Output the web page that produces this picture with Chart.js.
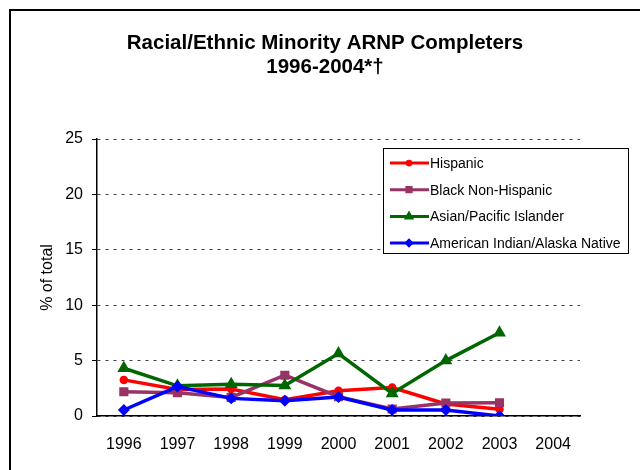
<!DOCTYPE html>
<html>
<head>
<meta charset="utf-8">
<script src="https://cdn.jsdelivr.net/npm/chart.js@4/dist/chart.umd.min.js"></script>
<style>
  body { margin: 0; background: #fff; }
  canvas { display: block; }
</style>
</head>
<body>
<canvas id="myChart" width="640" height="470"></canvas>
<script>
// chart values
const years = ['1996', '1997', '1998', '1999', '2000', '2001', '2002', '2003', '2004'];
const hispanic = [3.26, 2.4, 2.43, 1.47, 2.27, 2.57, 1.08, 0.6, null];
const blackNonHispanic = [2.19, 2.1, 1.68, 3.68, 1.74, 0.63, 1.17, 1.2, null];
const asianPacific = [4.31, 2.72, 2.87, 2.75, 5.63, 2.04, 5.0, 7.51, null];
const amIndianAlaska = [0.54, 2.66, 1.59, 1.38, 1.71, 0.54, 0.54, 0, null];
const yTicks = [0, 5, 10, 15, 20, 25];

const titleLines = ['Racial/Ethnic Minority ARNP Completers', '1996-2004*\u2020'];

// draws the outer frame, title and the boxed legend
const decorations = {
  id: 'decorations',
  afterDraw(chart) {
    let ctx = chart.ctx;
    ctx.save();

    // frame (only left and top edges are inside the picture)
    ctx.strokeStyle = '#000';
    ctx.lineWidth = 2;
    ctx.strokeRect(10, 10, 700, 520);

    // title
    ctx.fillStyle = '#000';
    ctx.font = 'bold 20.5px "Liberation Sans", Arial, sans-serif';
    ctx.textAlign = 'center';
    ctx.textBaseline = 'middle';
    ctx.fillText(titleLines[0], 325, 43);
    ctx.fillText(titleLines[1], 325, 67);

    // legend, white box over the grid
    ctx.fillStyle = '#fff';
    ctx.fillRect(383.5, 148.5, 245, 105);
    ctx.lineWidth = 1;
    ctx.strokeRect(383.5, 148.5, 245, 105);
    ctx.font = '14px "Liberation Sans", Arial, sans-serif';
    ctx.textAlign = 'left';
    chart.data.datasets.forEach((ds, i) => {
      let y = 163 + i * 26.7;
      ctx.strokeStyle = ds.borderColor;
      ctx.lineWidth = 3;
      ctx.beginPath();
      ctx.moveTo(390, y);
      ctx.lineTo(429, y);
      ctx.stroke();
      Chart.helpers.drawPoint(ctx, {
        pointStyle: ds.pointStyle,
        radius: ds.pointRadius * 0.75,
        rotation: 0,
        borderWidth: 1
      }, 409, y);
      ctx.fillStyle = ds.borderColor;
      ctx.fill();
      ctx.fillStyle = '#000';
      ctx.fillText(ds.label, 430, y + 1);
    });
    ctx.restore();
  }
};

let ctx = document.getElementById('myChart').getContext('2d');
let myChart = new Chart(ctx, {
  type: 'line',
  data: {
    labels: years,
    datasets: [{
      label: 'Hispanic',
      data: hispanic,
      borderColor: '#FF0000',
      backgroundColor: '#FF0000',
      pointStyle: 'circle',
      pointRadius: 2.5,
      borderWidth: 3.5,
      order: 4
    }, {
      label: 'Black Non-Hispanic',
      data: blackNonHispanic,
      borderColor: '#993366',
      backgroundColor: '#993366',
      pointStyle: 'rect',
      pointRadius: 4,
      borderWidth: 3.5,
      order: 3
    }, {
      label: 'Asian/Pacific Islander',
      data: asianPacific,
      borderColor: '#006600',
      backgroundColor: '#006600',
      pointStyle: 'triangle',
      pointRadius: 4,
      borderWidth: 3.5,
      order: 2
    }, {
      label: 'American Indian/Alaska Native',
      data: amIndianAlaska,
      borderColor: '#0000FF',
      backgroundColor: '#0000FF',
      pointStyle: 'rectRot',
      pointRadius: 3.5,
      borderWidth: 3.5,
      order: 1
    }]
  },
  options: {
    responsive: false,
    animation: false,
    layout: {
      padding: { left: 0, right: 60, top: 139, bottom: 0 }
    },
    plugins: {
      legend: { display: false },
      title: { display: false },
      tooltip: { enabled: false }
    },
    elements: {
      line: { tension: 0 },
      point: { borderWidth: 0, hoverRadius: 4 }
    },
    scales: {
      x: {
        offset: true,
        afterFit(scale) { scale.height = 54; },
        grid: { display: true, drawOnChartArea: false, drawTicks: false },
        border: { display: true, color: '#000', width: 1.5 },
        ticks: {
          color: '#000',
          padding: 19,
          maxRotation: 0,
          font: { family: '"Liberation Sans", Arial, sans-serif', size: 16 }
        }
      },
      y: {
        min: 0,
        max: 25,
        afterFit(scale) { scale.width = 97; },
        afterBuildTicks(scale) { scale.ticks = yTicks.map(v => ({ value: v })); },
        grid: {
          color: '#444',
          lineWidth: 1,
          tickLength: 5,
          tickColor: '#000',
          tickBorderDash: [],
          tickWidth: 1
        },
        border: { display: true, color: '#000', width: 1.5, dash: [3, 5] },
        title: {
          display: true,
          text: '% of total',
          color: '#000',
          padding: { top: 38, bottom: 0 },
          font: { family: '"Liberation Sans", Arial, sans-serif', size: 16 }
        },
        ticks: {
          color: '#000',
          padding: 9,
          font: { family: '"Liberation Sans", Arial, sans-serif', size: 16 }
        }
      }
    }
  },
  plugins: [decorations]
});
</script>
</body>
</html>
